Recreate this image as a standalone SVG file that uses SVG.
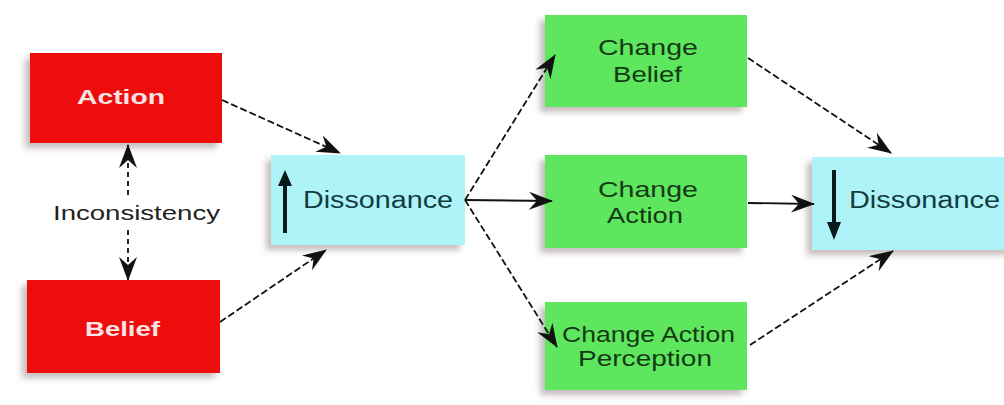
<svg xmlns="http://www.w3.org/2000/svg" width="1004" height="405" viewBox="0 0 1004 405">
<defs>
<filter id="sh" x="-20%" y="-20%" width="140%" height="150%">
<feDropShadow dx="-5" dy="5" stdDeviation="3" flood-color="#a09090" flood-opacity="0.6"/>
</filter>
<marker id="ah" viewBox="0 0 24 18" refX="23" refY="9" markerWidth="24" markerHeight="18" markerUnits="userSpaceOnUse" orient="auto">
<path d="M0,0 L24,9 L0,18 L8,9 Z" fill="#111"/>
</marker>
<marker id="ahs" viewBox="0 0 24 18" refX="23" refY="9" markerWidth="24" markerHeight="18" markerUnits="userSpaceOnUse" orient="auto-start-reverse">
<path d="M0,0 L24,9 L0,18 L8,9 Z" fill="#111"/>
</marker>
</defs>
<style>
.red{fill:#ee1111;filter:url(#sh)}
.grn{fill:#5ee65e;filter:url(#sh)}
.cyn{fill:#aef3f8;filter:url(#sh)}
text{font-family:"Liberation Sans",Arial,sans-serif}
.wt{font-size:21px;font-weight:bold;fill:#fbe3e3}
.gt{font-size:22px;fill:#143a14}
.dt{font-size:23px;fill:#123c40}
.lab{font-size:20px;fill:#222}
.c{stroke:#111;stroke-width:1.8;fill:none;marker-end:url(#ah)}
.d{stroke-dasharray:7,3}
.big{stroke:#0a1a1a;stroke-width:4;fill:none}
</style>
<rect width="1004" height="405" fill="#fff"/>
<g id="label-inconsistency"><text class="lab" x="53" y="220" textLength="167" lengthAdjust="spacingAndGlyphs">Inconsistency</text></g>
<g id="node-action"><rect class="red" x="30" y="53" width="192" height="90"/><text class="wt" x="77" y="104" textLength="88" lengthAdjust="spacingAndGlyphs">Action</text></g>
<g id="node-belief"><rect class="red" x="27" y="280" width="193" height="93"/><text class="wt" x="85" y="336" textLength="75" lengthAdjust="spacingAndGlyphs">Belief</text></g>
<g id="node-dissonance-up"><rect class="cyn" x="271" y="155" width="194" height="90"/>
<line class="big" x1="285" y1="233" x2="285" y2="182"/><path d="M278,186 L285,170 L292,186 Z" fill="#0a1a1a"/>
<text class="dt" x="303" y="208" textLength="150" lengthAdjust="spacingAndGlyphs">Dissonance</text></g>
<g id="node-change-belief"><rect class="grn" x="545" y="15" width="202" height="92"/><text class="gt" x="598" y="55" textLength="100" lengthAdjust="spacingAndGlyphs">Change</text><text class="gt" x="613" y="82" textLength="69" lengthAdjust="spacingAndGlyphs">Belief</text></g>
<g id="node-change-action"><rect class="grn" x="545" y="155" width="202" height="93"/><text class="gt" x="598" y="197" textLength="100" lengthAdjust="spacingAndGlyphs">Change</text><text class="gt" x="607" y="223" textLength="76" lengthAdjust="spacingAndGlyphs">Action</text></g>
<g id="node-change-perception"><rect class="grn" x="545" y="302" width="202" height="88"/><text class="gt" x="562" y="342" textLength="173" lengthAdjust="spacingAndGlyphs">Change Action</text><text class="gt" x="578" y="366" textLength="134" lengthAdjust="spacingAndGlyphs">Perception</text></g>
<g id="node-dissonance-down"><rect class="cyn" x="812" y="157" width="200" height="93"/>
<line class="big" x1="834" y1="170" x2="834" y2="226"/><path d="M827,222 L834,240 L841,222 Z" fill="#0a1a1a"/>
<text class="dt" x="849" y="208" textLength="151" lengthAdjust="spacingAndGlyphs">Dissonance</text></g>
<g id="connectors">
<line class="c d" x1="222" y1="100" x2="340" y2="153"/>
<line class="c d" x1="220" y1="322" x2="326" y2="250"/>
<line class="c d" x1="465" y1="200" x2="555" y2="55"/>
<line class="c" x1="465" y1="200" x2="552" y2="201"/>
<line class="c d" x1="465" y1="200" x2="557" y2="347"/>
<line class="c d" x1="748" y1="58" x2="891" y2="153"/>
<line class="c" x1="748" y1="203" x2="814" y2="204"/>
<line class="c d" x1="750" y1="345" x2="893" y2="251"/>
<line stroke="#111" stroke-width="1.8" stroke-dasharray="5,4" marker-start="url(#ahs)" x1="128" y1="145" x2="128" y2="197"/>
<line stroke="#111" stroke-width="1.8" stroke-dasharray="5,4" marker-end="url(#ah)" x1="128" y1="230" x2="128" y2="280"/>
</g>
</svg>
